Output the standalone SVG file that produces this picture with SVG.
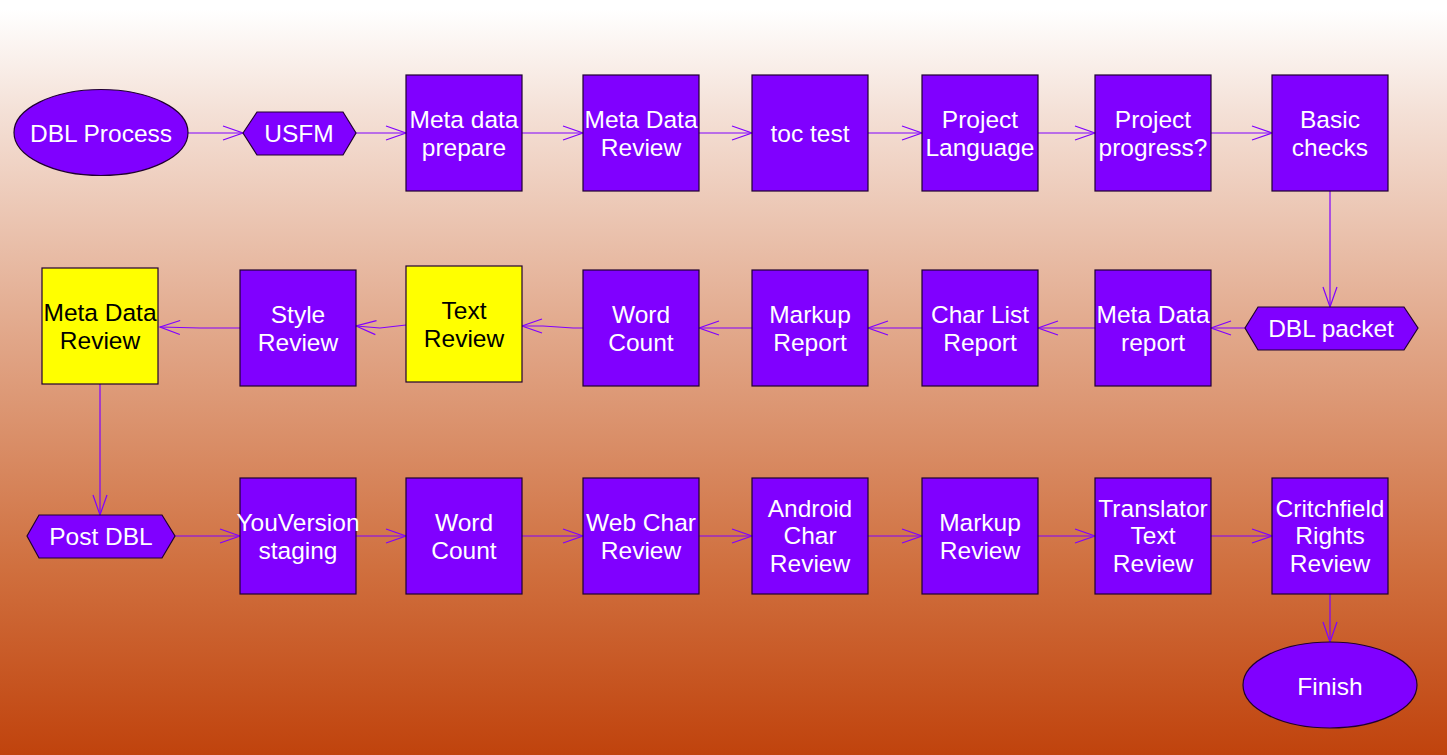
<svg xmlns="http://www.w3.org/2000/svg" width="1447" height="755" viewBox="0 0 1447 755">
<defs>
<linearGradient id="bg" x1="0" y1="0" x2="0" y2="1">
<stop offset="0" stop-color="#FFFFFF"/>
<stop offset="0.012" stop-color="#FFFFFF"/>
<stop offset="0.15" stop-color="#F4E0D6"/>
<stop offset="0.45" stop-color="#E1A688"/>
<stop offset="0.75" stop-color="#D0703F"/>
<stop offset="1" stop-color="#C0430D"/>
</linearGradient>
<marker id="arr" markerUnits="userSpaceOnUse" markerWidth="24" markerHeight="18" viewBox="-22 -9 24 18" refX="0" refY="0" orient="auto" overflow="visible">
<path d="M-20,-7 L0,0 L-20,7" fill="none" stroke="#8000FF" stroke-width="1.2"/>
</marker>
</defs>
<style>
.box{fill:#8000FF;stroke:#200030;stroke-width:1.2}
.ybox{fill:#FFFF00;stroke:#200030;stroke-width:1.2}
.t{font-family:"Liberation Sans",Arial,sans-serif;font-size:24.5px;fill:#FFFFFF;text-anchor:middle;dominant-baseline:central}
.k{fill:#000000}
.c{fill:none;stroke:#8000FF;stroke-width:1.2;marker-end:url(#arr)}
</style>
<rect x="0" y="0" width="1447" height="755" fill="url(#bg)"/>

<g id="connectors">
<line class="c" x1="188" y1="133" x2="243" y2="133"/>
<line class="c" x1="356" y1="133" x2="406" y2="133"/>
<line class="c" x1="522" y1="133" x2="583" y2="133"/>
<line class="c" x1="699" y1="133" x2="752" y2="133"/>
<line class="c" x1="868" y1="133" x2="922" y2="133"/>
<line class="c" x1="1038" y1="133" x2="1095" y2="133"/>
<line class="c" x1="1211" y1="133" x2="1272" y2="133"/>
<line class="c" x1="1330" y1="191" x2="1330" y2="307"/>
<line class="c" x1="1245" y1="328" x2="1211" y2="328"/>
<line class="c" x1="1095" y1="328" x2="1038" y2="328"/>
<line class="c" x1="922" y1="328" x2="868" y2="328"/>
<line class="c" x1="752" y1="328" x2="699" y2="328"/>
<polyline class="c" points="583,328 573,328 543,326 522,326"/>
<polyline class="c" points="406,325 380,328 356,326"/>
<polyline class="c" points="240,328 200,328 160,327"/>
<line class="c" x1="100" y1="384" x2="100" y2="515"/>
<line class="c" x1="175" y1="536" x2="240" y2="536"/>
<line class="c" x1="356" y1="536" x2="406" y2="536"/>
<line class="c" x1="522" y1="536" x2="583" y2="536"/>
<line class="c" x1="699" y1="536" x2="752" y2="536"/>
<line class="c" x1="868" y1="536" x2="922" y2="536"/>
<line class="c" x1="1038" y1="536" x2="1095" y2="536"/>
<line class="c" x1="1211" y1="536" x2="1272" y2="536"/>
<line class="c" x1="1330" y1="594" x2="1330" y2="642"/>
</g>

<g id="dbl-process"><ellipse class="box" cx="101" cy="132.5" rx="87" ry="43"/><text class="t" x="101" y="133">DBL Process</text></g>
<g id="usfm"><polygon class="box" points="243,133 257,112 343,112 356,133 343,155 257,155"/><text class="t" x="299" y="133">USFM</text></g>

<g id="meta-data-prepare"><rect class="box" x="406" y="75" width="116" height="116"/><text class="t" x="464" y="119">Meta data</text><text class="t" x="464" y="147">prepare</text></g>
<g id="meta-data-review-1"><rect class="box" x="583" y="75" width="116" height="116"/><text class="t" x="641" y="119">Meta Data</text><text class="t" x="641" y="147">Review</text></g>
<g id="toc-test"><rect class="box" x="752" y="75" width="116" height="116"/><text class="t" x="810" y="133">toc test</text></g>
<g id="project-language"><rect class="box" x="922" y="75" width="116" height="116"/><text class="t" x="980" y="119">Project</text><text class="t" x="980" y="147">Language</text></g>
<g id="project-progress"><rect class="box" x="1095" y="75" width="116" height="116"/><text class="t" x="1153" y="119">Project</text><text class="t" x="1153" y="147">progress?</text></g>
<g id="basic-checks"><rect class="box" x="1272" y="75" width="116" height="116"/><text class="t" x="1330" y="119">Basic</text><text class="t" x="1330" y="147">checks</text></g>

<g id="dbl-packet"><polygon class="box" points="1245,328 1258,307 1404,307 1418,328 1404,350 1258,350"/><text class="t" x="1331" y="328">DBL packet</text></g>
<g id="meta-data-report"><rect class="box" x="1095" y="270" width="116" height="116"/><text class="t" x="1153" y="314">Meta Data</text><text class="t" x="1153" y="342">report</text></g>
<g id="char-list-report"><rect class="box" x="922" y="270" width="116" height="116"/><text class="t" x="980" y="314">Char List</text><text class="t" x="980" y="342">Report</text></g>
<g id="markup-report"><rect class="box" x="752" y="270" width="116" height="116"/><text class="t" x="810" y="314">Markup</text><text class="t" x="810" y="342">Report</text></g>
<g id="word-count-1"><rect class="box" x="583" y="270" width="116" height="116"/><text class="t" x="641" y="314">Word</text><text class="t" x="641" y="342">Count</text></g>
<g id="text-review"><rect class="ybox" x="406" y="266" width="116" height="116"/><text class="t k" x="464" y="310">Text</text><text class="t k" x="464" y="338">Review</text></g>
<g id="style-review"><rect class="box" x="240" y="270" width="116" height="116"/><text class="t" x="298" y="314">Style</text><text class="t" x="298" y="342">Review</text></g>
<g id="meta-data-review-2"><rect class="ybox" x="42" y="268" width="116" height="116"/><text class="t k" x="100" y="312">Meta Data</text><text class="t k" x="100" y="340">Review</text></g>

<g id="post-dbl"><polygon class="box" points="27,536 39,515 162,515 175,536 162,558 39,558"/><text class="t" x="101" y="536">Post DBL</text></g>
<g id="youversion-staging"><rect class="box" x="240" y="478" width="116" height="116"/><text class="t" x="298" y="522">YouVersion</text><text class="t" x="298" y="550">staging</text></g>
<g id="word-count-2"><rect class="box" x="406" y="478" width="116" height="116"/><text class="t" x="464" y="522">Word</text><text class="t" x="464" y="550">Count</text></g>
<g id="web-char-review"><rect class="box" x="583" y="478" width="116" height="116"/><text class="t" x="641" y="522">Web Char</text><text class="t" x="641" y="550">Review</text></g>
<g id="android-char-review"><rect class="box" x="752" y="478" width="116" height="116"/><text class="t" x="810" y="508">Android</text><text class="t" x="810" y="535">Char</text><text class="t" x="810" y="563">Review</text></g>
<g id="markup-review"><rect class="box" x="922" y="478" width="116" height="116"/><text class="t" x="980" y="522">Markup</text><text class="t" x="980" y="550">Review</text></g>
<g id="translator-text-review"><rect class="box" x="1095" y="478" width="116" height="116"/><text class="t" x="1153" y="508">Translator</text><text class="t" x="1153" y="535">Text</text><text class="t" x="1153" y="563">Review</text></g>
<g id="critchfield-rights-review"><rect class="box" x="1272" y="478" width="116" height="116"/><text class="t" x="1330" y="508">Critchfield</text><text class="t" x="1330" y="535">Rights</text><text class="t" x="1330" y="563">Review</text></g>
<g id="finish"><ellipse class="box" cx="1330" cy="685" rx="87" ry="43"/><text class="t" x="1330" y="686">Finish</text></g>
</svg>
